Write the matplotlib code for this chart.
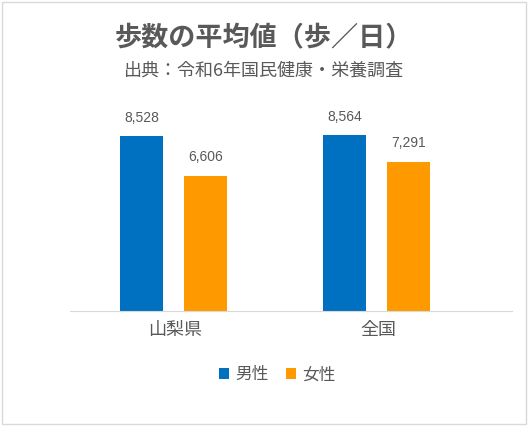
import matplotlib
matplotlib.use("Agg")
import matplotlib.pyplot as plt
from matplotlib.patches import Rectangle

plt.rcParams['font.family'] = ['Noto Sans CJK JP', 'DejaVu Sans']

categories = ["山梨県", "全国"]
male = [8528, 8564]
female = [6606, 7291]
series_names = ["男性", "女性"]
colors = ["#0070C0", "#FF9900"]
txt = "#595959"

fig = plt.figure(figsize=(5.28, 4.26), dpi=100)
fig.patches.append(Rectangle((0.004, 0.004), 0.992, 0.992, transform=fig.transFigure,
                             fill=False, edgecolor="#D9D9D9", linewidth=1))
ax = fig.add_axes([0.1326, 0.27, 0.837, 0.481])
x = range(len(categories))
w = 0.21
b1 = ax.bar([i - 0.165 for i in x], male, w, color=colors[0], label=series_names[0])
b2 = ax.bar([i + 0.15 for i in x], female, w, color=colors[1], label=series_names[1])
for bars in (b1, b2):
    for r in bars:
        ax.text(r.get_x() + r.get_width()/2, r.get_height() + 550, f"{int(r.get_height()):,}",
                ha="center", va="bottom", fontsize=10, color=txt, family="Liberation Sans")
ax.set_ylim(0, 10000)
ax.set_xlim(-0.517, 1.66)
ax.set_yticks([])
ax.set_xticks(list(x))
ax.set_xticklabels(categories, fontsize=13, color=txt)
ax.tick_params(axis='x', length=0, pad=7)
for s in ["top", "right", "left"]:
    ax.spines[s].set_visible(False)
ax.spines["bottom"].set_color("#D9D9D9")
fig.text(0.5, 0.91, "歩数の平均値（歩／日）", ha="center", va="center", fontsize=19.5,
         fontweight="bold", color=txt)
fig.text(0.5, 0.835, "出典：令和6年国民健康・栄養調査", ha="center", va="center", fontsize=13, color=txt)
fig.legend(handles=[b1, b2], loc="center", bbox_to_anchor=(0.525, 0.12), ncol=2, frameon=False,
           fontsize=12, labelcolor=txt, handlelength=0.6, handleheight=0.6, columnspacing=1.0,
           handletextpad=0.4)
fig.savefig("out.png", dpi=100)
